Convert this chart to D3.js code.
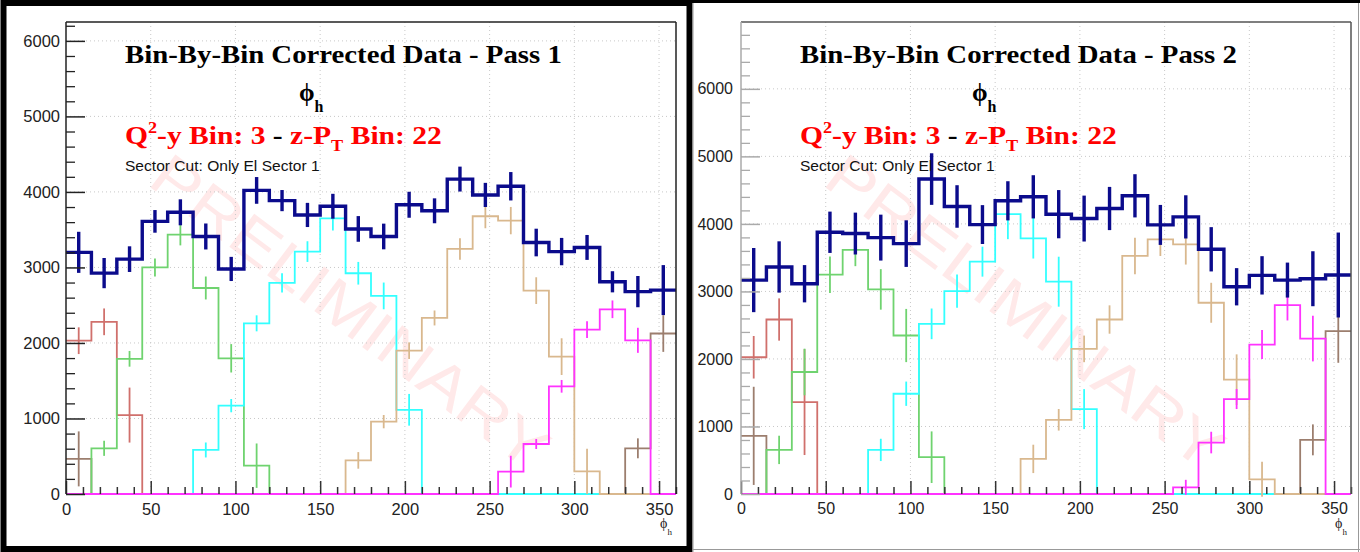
<!DOCTYPE html>
<html>
<head>
<meta charset="utf-8">
<script src="https://cdn.jsdelivr.net/npm/d3@7"></script>
<style>
  body { margin: 0; background: #fff; }
  svg { display: block; }
  .tick text { font-family: "Liberation Sans", Arial, sans-serif; }
</style>
</head>
<body>
<svg id="chart" width="1360" height="552"></svg>
<script>
// phi_h bins, 15 degrees wide
var binLow = [0, 15, 30, 45, 60, 75, 90, 105, 120, 135, 150, 165, 180, 195, 210, 225, 240, 255, 270, 285, 300, 315, 330, 345];
var binWidth = 15;
var xTickLabels = [0, 50, 100, 150, 200, 250, 300, 350];
var yTickLabels1 = [0, 1000, 2000, 3000, 4000, 5000, 6000];
var yTickLabels2 = [0, 1000, 2000, 3000, 4000, 5000, 6000];

// Pass 1
var p1Total      = [3200, 2925, 3110, 3610, 3730, 3410, 2980, 4020, 3885, 3695, 3810, 3510, 3410, 3830, 3750, 4170, 3960, 4075, 3330, 3210, 3265, 2810, 2680, 2700];
var p1TotalErr   = [272, 200, 170, 150, 172, 172, 160, 177, 140, 160, 165, 170, 170, 172, 165, 165, 160, 188, 183, 181, 165, 140, 207, 331];
var p1Red        = [2030, 2280, 1045, 0, 0, 0, 0, 0, 0, 0, 0, 0, 0, 0, 0, 0, 0, 0, 0, 0, 0, 0, 0, 0];
var p1RedErr     = [177, 177, 364, 0, 0, 0, 0, 0, 0, 0, 0, 0, 0, 0, 0, 0, 0, 0, 0, 0, 0, 0, 0, 0];
var p1Brown      = [465, 0, 0, 0, 0, 0, 0, 0, 0, 0, 0, 0, 0, 0, 0, 0, 0, 0, 0, 0, 0, 0, 605, 2125];
var p1BrownErr   = [364, 0, 0, 0, 0, 0, 0, 0, 0, 0, 0, 0, 0, 0, 0, 0, 0, 0, 0, 0, 0, 0, 132, 243];
var p1Green      = [0, 605, 1790, 3000, 3435, 2728, 1797, 375, 0, 0, 0, 0, 0, 0, 0, 0, 0, 0, 0, 0, 0, 0, 0, 0];
var p1GreenErr   = [0, 100, 104, 119, 143, 152, 188, 294, 0, 0, 0, 0, 0, 0, 0, 0, 0, 0, 0, 0, 0, 0, 0, 0];
var p1Cyan       = [0, 0, 0, 0, 0, 583, 1170, 2260, 2795, 3210, 3650, 2923, 2623, 1115, 0, 0, 0, 0, 0, 0, 0, 0, 0, 0];
var p1CyanErr    = [0, 0, 0, 0, 0, 99, 88, 106, 128, 137, 161, 150, 177, 210, 0, 0, 0, 0, 0, 0, 0, 0, 0, 0];
var p1Tan        = [0, 0, 0, 0, 0, 0, 0, 0, 0, 0, 0, 445, 958, 1898, 2331, 3245, 3678, 3620, 2693, 1819, 300, 0, 0, 0];
var p1TanErr     = [0, 0, 0, 0, 0, 0, 0, 0, 0, 0, 0, 110, 88, 110, 99, 143, 159, 181, 177, 243, 300, 0, 0, 0];
var p1Magenta    = [0, 0, 0, 0, 0, 0, 0, 0, 0, 0, 0, 0, 0, 0, 0, 0, 0, 296, 662, 1426, 2177, 2446, 2035, 0];
var p1MagentaErr = [0, 0, 0, 0, 0, 0, 0, 0, 0, 0, 0, 0, 0, 0, 0, 0, 0, 210, 66, 84, 110, 117, 166, 0];

// Pass 2
var p2Total      = [3168, 3362, 3114, 3876, 3857, 3797, 3708, 4664, 4258, 3990, 4342, 4401, 4144, 4079, 4228, 4416, 3985, 4104, 3624, 3069, 3238, 3168, 3188, 3243];
var p2TotalErr   = [475, 380, 276, 306, 310, 340, 345, 382, 315, 288, 290, 320, 357, 340, 320, 320, 296, 320, 328, 276, 284, 259, 407, 629];
var p2Red        = [2025, 2584, 1361, 0, 0, 0, 0, 0, 0, 0, 0, 0, 0, 0, 0, 0, 0, 0, 0, 0, 0, 0, 0, 0];
var p2RedErr     = [315, 313, 784, 0, 0, 0, 0, 0, 0, 0, 0, 0, 0, 0, 0, 0, 0, 0, 0, 0, 0, 0, 0, 0];
var p2Brown      = [861, 0, 0, 0, 0, 0, 0, 0, 0, 0, 0, 0, 0, 0, 0, 0, 0, 0, 0, 0, 0, 0, 802, 2411];
var p2BrownErr   = [727, 0, 0, 0, 0, 0, 0, 0, 0, 0, 0, 0, 0, 0, 0, 0, 0, 0, 0, 0, 0, 0, 229, 468];
var p2Green      = [0, 653, 1807, 3248, 3614, 3030, 2347, 545, 0, 0, 0, 0, 0, 0, 0, 0, 0, 0, 0, 0, 0, 0, 0, 0];
var p2GreenErr   = [0, 210, 345, 271, 240, 300, 394, 382, 0, 0, 0, 0, 0, 0, 0, 0, 0, 0, 0, 0, 0, 0, 0, 0];
var p2Cyan       = [0, 0, 0, 0, 0, 653, 1485, 2520, 3005, 3441, 4144, 3787, 3144, 1257, 0, 0, 0, 0, 0, 0, 0, 0, 0, 0];
var p2CyanErr    = [0, 0, 0, 0, 0, 165, 180, 227, 247, 222, 370, 300, 370, 296, 0, 0, 0, 0, 0, 0, 0, 0, 0, 0];
var p2Tan        = [0, 0, 0, 0, 0, 0, 0, 0, 0, 0, 0, 520, 1099, 2149, 2584, 3525, 3772, 3698, 2832, 1693, 218, 0, 0, 0];
var p2TanErr     = [0, 0, 0, 0, 0, 0, 0, 0, 0, 0, 0, 210, 160, 197, 210, 271, 247, 300, 296, 375, 260, 0, 0, 0];
var p2Magenta    = [0, 0, 0, 0, 0, 0, 0, 0, 0, 0, 0, 0, 0, 0, 0, 0, 0, 99, 762, 1406, 2213, 2797, 2302, 0];
var p2MagentaErr = [0, 0, 0, 0, 0, 0, 0, 0, 0, 0, 0, 0, 0, 0, 0, 0, 0, 111, 160, 148, 214, 227, 338, 0];

var colors = {
  red: "#d0706c", brown: "#9c7e6e", green: "#6fd36f", cyan: "#33ffff",
  tan: "#d9b88e", magenta: "#ff33ff", total: "#0b0b8c"
};

var panels = [
  {
    frame: { x0: 66, x1: 676, y0: 22, y1: 494 }, ymax: 6250, yTicks: yTickLabels1,
    yAxisColor: "#222", labelPad: 6, fontSize: 16.5, textX: 125, phiX: 299,
    title: "Bin-By-Bin Corrected Data - Pass 1",
    series: [
      { c: colors.red, v: p1Red, e: p1RedErr },
      { c: colors.brown, v: p1Brown, e: p1BrownErr },
      { c: colors.green, v: p1Green, e: p1GreenErr },
      { c: colors.cyan, v: p1Cyan, e: p1CyanErr },
      { c: colors.tan, v: p1Tan, e: p1TanErr },
      { c: colors.magenta, v: p1Magenta, e: p1MagentaErr },
      { c: colors.total, v: p1Total, e: p1TotalErr, w: 3.4 }
    ]
  },
  {
    frame: { x0: 741, x1: 1351, y0: 22, y1: 494 }, ymax: 6990, yTicks: yTickLabels2,
    yAxisColor: "#aaa", labelPad: 8, fontSize: 16, textX: 800, phiX: 972,
    title: "Bin-By-Bin Corrected Data - Pass 2",
    series: [
      { c: colors.red, v: p2Red, e: p2RedErr },
      { c: colors.brown, v: p2Brown, e: p2BrownErr },
      { c: colors.green, v: p2Green, e: p2GreenErr },
      { c: colors.cyan, v: p2Cyan, e: p2CyanErr },
      { c: colors.tan, v: p2Tan, e: p2TanErr },
      { c: colors.magenta, v: p2Magenta, e: p2MagentaErr },
      { c: colors.total, v: p2Total, e: p2TotalErr, w: 3.4 }
    ]
  }
];

var svg = d3.select("#chart");
svg.append("rect").attr("width", 1360).attr("height", 552).attr("fill", "#fff");

function fitWidth(sel, x0, target) {
  var w = sel.node().getBBox().width;
  sel.attr("transform", "translate(" + x0 + ",0) scale(" + (target / w) + ",1) translate(" + (-x0) + ",0)");
}

function drawPanel(p, idx) {
  var f = p.frame;
  var x = d3.scaleLinear().domain([0, 360]).range([f.x0, f.x1]);
  var y = d3.scaleLinear().domain([0, p.ymax]).range([f.y1, f.y0]);
  var g = svg.append("g").attr("class", "panel" + idx);

  // watermark
  var cx = f.x0 + 284, cy = 312;
  g.append("text")
    .attr("x", cx).attr("y", cy)
    .attr("transform", "rotate(37," + cx + "," + cy + ")")
    .attr("text-anchor", "middle").attr("dominant-baseline", "central")
    .attr("font-family", "Liberation Sans, Arial, sans-serif")
    .attr("font-size", 60)
    .attr("fill", "#ffe9e9")
    .attr("textLength", 480).attr("lengthAdjust", "spacingAndGlyphs")
    .text("PRELIMINARY");

  // grid
  var grid = g.append("g").attr("stroke", "#c8c8c8").attr("stroke-dasharray", "1,3");
  grid.selectAll("line.gx").data(xTickLabels.filter(function(d) { return d > 0; }))
    .enter().append("line")
    .attr("x1", function(d) { return x(d); }).attr("x2", function(d) { return x(d); })
    .attr("y1", f.y0).attr("y2", f.y1);
  grid.selectAll("line.gy").data(p.yTicks.filter(function(d) { return d > 0; }))
    .enter().append("line")
    .attr("y1", function(d) { return y(d); }).attr("y2", function(d) { return y(d); })
    .attr("x1", f.x0).attr("x2", f.x1);

  // histograms
  var step = d3.line()
    .x(function(d) { return x(d[0]); })
    .y(function(d) { return y(d[1]); })
    .curve(d3.curveStepAfter);

  p.series.forEach(function(s) {
    var pts = binLow.map(function(b, i) { return [b, s.v[i]]; });
    pts.push([360, s.v[s.v.length - 1]]);
    var sw = s.w || 1.8;
    g.append("path").datum(pts)
      .attr("d", step).attr("fill", "none")
      .attr("stroke", s.c).attr("stroke-width", sw);
    var errs = binLow.map(function(b, i) { return { c: b + binWidth / 2, v: s.v[i], e: s.e[i] }; })
      .filter(function(d) { return d.v > 0; });
    g.selectAll(null).data(errs).enter().append("line")
      .attr("x1", function(d) { return x(d.c); }).attr("x2", function(d) { return x(d.c); })
      .attr("y1", function(d) { return y(d.v - d.e); })
      .attr("y2", function(d) { return y(Math.min(d.v + d.e, p.ymax)); })
      .attr("stroke", s.c).attr("stroke-width", sw);
  });

  // axes (ticks pointing into the frame, ROOT style)
  var xAxis = d3.axisBottom(x).tickValues(xTickLabels).tickSize(-13).tickPadding(9)
    .tickFormat(d3.format("d"));
  var xMinor = d3.axisBottom(x).tickValues(d3.range(0, 361, 10).filter(function(d) { return d % 50; }))
    .tickSize(-7).tickFormat("");
  var yAxis = d3.axisLeft(y).tickValues(p.yTicks).tickSize(-19).tickPadding(p.labelPad)
    .tickFormat(d3.format("d"));
  var yMinor = d3.axisLeft(y).tickValues(d3.range(200, p.ymax, 200).filter(function(d) { return d % 1000; }))
    .tickSize(-9).tickFormat("");

  var gx = g.append("g").attr("transform", "translate(0," + f.y1 + ")").call(xAxis);
  g.append("g").attr("transform", "translate(0," + f.y1 + ")").call(xMinor)
    .selectAll("line").attr("stroke", "#333").attr("stroke-width", 1.5);
  var gy = g.append("g").attr("transform", "translate(" + f.x0 + ",0)").call(yAxis);
  g.append("g").attr("transform", "translate(" + f.x0 + ",0)").call(yMinor)
    .selectAll("line").attr("stroke", p.yAxisColor).attr("stroke-width", 1.3);

  g.selectAll(".domain").remove();
  gx.selectAll("line").attr("stroke", "#333").attr("stroke-width", 1.5);
  gy.selectAll("line").attr("stroke", p.yAxisColor).attr("stroke-width", 1.5);
  g.selectAll(".tick text").attr("font-size", p.fontSize).attr("fill", "#222");

  // frame
  g.append("line").attr("x1", f.x0).attr("x2", f.x1).attr("y1", f.y0).attr("y2", f.y0)
    .attr("stroke", idx ? "#555" : "#222").attr("stroke-width", 1.5);
  g.append("line").attr("x1", f.x1).attr("x2", f.x1).attr("y1", f.y0).attr("y2", f.y1)
    .attr("stroke", idx ? "#555" : "#222").attr("stroke-width", 1.5);
  g.append("line").attr("x1", f.x0).attr("x2", f.x0).attr("y1", f.y0).attr("y2", f.y1)
    .attr("stroke", p.yAxisColor).attr("stroke-width", 1.5);

  // x axis title
  var xt = g.append("text").attr("x", f.x1 - 16).attr("y", 528)
    .attr("font-family", "Liberation Serif, serif").attr("font-size", 14).attr("fill", "#222");
  xt.append("tspan").text("\u03d5");
  xt.append("tspan").attr("dy", 7).attr("font-size", 9).text("h");

  // title block
  var title = g.append("text").attr("x", p.textX).attr("y", 63)
    .attr("font-family", "Liberation Serif, 'Times New Roman', serif")
    .attr("font-weight", "bold").attr("font-size", 26).attr("fill", "#000")
    .text(p.title);
  fitWidth(title, p.textX, 437);

  var phi = g.append("text").attr("x", p.phiX).attr("y", 101)
    .attr("font-family", "Liberation Serif, serif").attr("font-weight", "bold").attr("font-size", 25);
  phi.append("tspan").text("\u03d5");
  phi.append("tspan").attr("dy", 11).attr("font-size", 16).text("h");

  var red = g.append("text").attr("x", p.textX).attr("y", 144)
    .attr("font-family", "Liberation Serif, 'Times New Roman', serif")
    .attr("font-weight", "bold").attr("font-size", 26).attr("fill", "#ff0000");
  red.append("tspan").text("Q");
  red.append("tspan").attr("dy", -11).attr("font-size", 16).text("2");
  red.append("tspan").attr("dy", 11).text("-y Bin: 3");
  red.append("tspan").attr("fill", "#000").text(" - ");
  red.append("tspan").text(" z-P");
  red.append("tspan").attr("dy", 7).attr("font-size", 16).text("T");
  red.append("tspan").attr("dy", -7).text(" Bin: 22");
  fitWidth(red, p.textX, 317);

  var sec = g.append("text").attr("x", p.textX).attr("y", 171)
    .attr("font-family", "Liberation Sans, Arial, sans-serif")
    .attr("font-size", 14).attr("fill", "#111")
    .text("Sector Cut: Only El Sector 1");
  fitWidth(sec, p.textX, 195);
}

panels.forEach(drawPanel);

// screenshot borders
svg.append("rect").attr("x", 3.5).attr("y", 3).attr("width", 686).attr("height", 546)
  .attr("fill", "none").attr("stroke", "#000").attr("stroke-width", 6);
svg.append("line").attr("x1", 692).attr("x2", 1360).attr("y1", 1.5).attr("y2", 1.5)
  .attr("stroke", "#000").attr("stroke-width", 3);
svg.append("line").attr("x1", 693).attr("x2", 693).attr("y1", 3).attr("y2", 552)
  .attr("stroke", "#999").attr("stroke-width", 1);
svg.append("line").attr("x1", 693).attr("x2", 1360).attr("y1", 549.5).attr("y2", 549.5)
  .attr("stroke", "#999").attr("stroke-width", 1);
svg.append("line").attr("x1", 1358.5).attr("x2", 1358.5).attr("y1", 3).attr("y2", 552)
  .attr("stroke", "#999").attr("stroke-width", 1);
</script>
</body>
</html>
